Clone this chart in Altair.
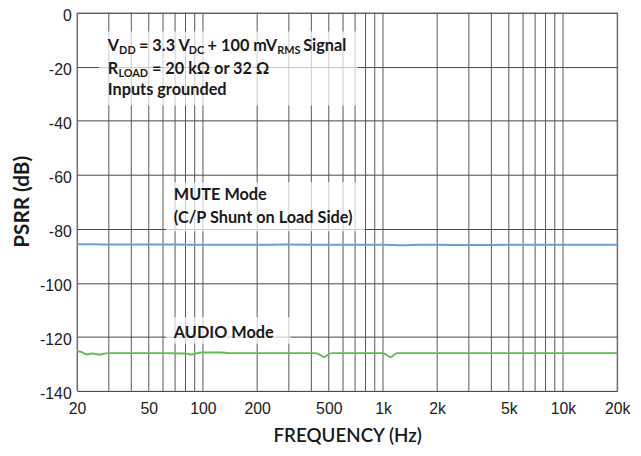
import altair as alt
import pandas as pd

# ---------------- data ----------------
mute_freq = [20, 25, 30, 40, 50, 70, 100, 150, 200, 300, 500, 700, 1000, 1300, 1600, 2000,
             3000, 5000, 7000, 10000, 15000, 20000]
mute_db = [-85.7, -85.7, -85.8, -85.8, -85.8, -85.8, -85.9, -85.9, -85.9, -85.8, -85.9, -85.9,
           -85.9, -86.1, -85.9, -85.9, -86.0, -85.9, -85.9, -85.9, -85.9, -85.9]

audio_freq = [20, 21, 22, 23, 24, 25, 26, 27, 28, 30, 40, 60, 80, 85, 90, 95, 100, 110, 125, 140,
              200, 300, 420, 450, 470, 490, 520, 700, 1000, 1050, 1100, 1150, 1200, 1500, 2000,
              5000, 10000, 20000]
audio_db = [-125.3, -125.5, -126.2, -126.5, -126.1, -126.2, -126.5, -126.5, -126.2, -126.0,
            -126.0, -126.0, -126.1, -126.5, -126.3, -125.9, -125.8, -125.8, -125.8, -126.0,
            -126.0, -126.0, -126.0, -126.7, -127.5, -126.8, -126.0, -126.0, -126.0, -126.7,
            -127.5, -126.7, -126.0, -126.0, -126.0, -126.0, -126.0, -126.0]

x_ticks = [20, 50, 100, 200, 500, 1000, 2000, 5000, 10000, 20000]
x_tick_labels = ["20", "50", "100", "200", "500", "1k", "2k", "5k", "10k", "20k"]
x_grid = [20, 30, 40, 50, 60, 70, 80, 90, 100, 200, 300, 400, 500, 600, 700, 800, 900,
          1000, 2000, 3000, 4000, 5000, 6000, 7000, 8000, 9000, 10000, 20000]
y_ticks = [0, -20, -40, -60, -80, -100, -120, -140]

# annotation text (segments: text, subscript?)
note_lines = [
    [("V", False), ("DD", True), (" = 3.3 V", False), ("DC", True), (" + 100 mV", False),
     ("RMS", True), (" Signal", False)],
    [("R", False), ("LOAD", True), (" = 20 k\u03a9 or 32 \u03a9", False)],
    [("Inputs grounded", False)],
]
note_anchor_f = 29.6
note_line_db = [-14.3, -22.6, -30.3]

mute_label = ["MUTE Mode", "(C/P Shunt on Load Side)"]
mute_label_db = [-69.3, -77.7]
audio_label = ["AUDIO Mode"]
audio_label_db = [-120.4]
mode_label_f = 68.9

# translucent backgrounds behind annotations (freq1, freq2, db1, db2)
box_f1 = [26.4, 62.3, 62.3]
box_f2 = [722, 788, 306]
box_d1 = [-6.9, -62.7, -112.7]
box_d2 = [-34.3, -80.9, -122.5]

# ---------------- styling helpers ----------------
FONT = "Lato"
MAIN_SIZE = 16.5
SUB_SIZE = 11
TEXT_COLOR = "#1a1a1a"

# approximate Lato Bold advance widths (em)
W = {" ": 0.193, "0": 0.58, "1": 0.58, "2": 0.58, "3": 0.58, ".": 0.23, "=": 0.58, "+": 0.58,
     "A": 0.708, "C": 0.686, "D": 0.765, "L": 0.523, "M": 0.9, "O": 0.80, "R": 0.652,
     "S": 0.539, "V": 0.70, "I": 0.292, "a": 0.505, "d": 0.58, "e": 0.53, "g": 0.52,
     "i": 0.26, "k": 0.54, "l": 0.26, "m": 0.87, "n": 0.58, "o": 0.58, "p": 0.58, "r": 0.39,
     "s": 0.44, "t": 0.38, "u": 0.58, "\u03a9": 0.75}


def text_width(s, size):
    return sum(W.get(c, 0.55) for c in s) * size


xscale = alt.Scale(type="log", domain=[20, 20000], nice=False)
yscale = alt.Scale(domain=[-140, 0], nice=False)

label_expr = " : ".join(
    f"datum.value == {v} ? '{t}'" for v, t in zip(x_ticks, x_tick_labels)
) + " : ''"

xaxis = alt.Axis(values=x_ticks, labelExpr=label_expr, grid=False, ticks=False, domain=False,
                 labelFont="Liberation Sans", labelFontSize=16, labelColor="#222222",
                 labelPadding=10, labelFlush=False, labelOverlap=False,
                 title="FREQUENCY (Hz)", titleFont=FONT, titleFontSize=19, titleFontWeight=600,
                 titleColor=TEXT_COLOR, titleY=51, titleBaseline="alphabetic")
yaxis = alt.Axis(values=y_ticks, grid=True, gridColor="#444444", gridWidth=1, ticks=False,
                 domain=False, labelExpr="'' + datum.value", labelFont="Liberation Sans",
                 labelFontSize=16, labelColor="#222222", labelPadding=6, labelOffset=3,
                 labelFlush=False, labelOverlap=False,
                 title="PSRR (dB)", titleFont=FONT,
                 titleFontSize=21, titleFontWeight="bold", titleColor=TEXT_COLOR,
                 titleAngle=270, titleX=-49, titleY=191, titleAlign="center",
                 titleBaseline="alphabetic")


def X(field):
    return alt.X(field, type="quantitative", scale=xscale, axis=xaxis)


def Y(field):
    return alt.Y(field, type="quantitative", scale=yscale, axis=yaxis)


layers = []

# vertical grid
grid_df = pd.DataFrame({"f": x_grid})
layers.append(alt.Chart(grid_df).mark_rule(color="#555555", strokeWidth=1).encode(x=X("f")))

# translucent boxes
box_df = pd.DataFrame({"f1": box_f1, "f2": box_f2, "d1": box_d1, "d2": box_d2})
layers.append(alt.Chart(box_df).mark_rect(fill="white", opacity=0.7).encode(
    x=X("f1"), x2="f2", y=Y("d1"), y2="d2"))

# data lines
mute_df = pd.DataFrame({"f": mute_freq, "db": mute_db})
audio_df = pd.DataFrame({"f": audio_freq, "db": audio_db})
layers.append(alt.Chart(mute_df).mark_line(color="#6c9ed8", strokeWidth=2,
                                           interpolate="monotone").encode(x=X("f"), y=Y("db")))
layers.append(alt.Chart(audio_df).mark_line(color="#62bf4f", strokeWidth=2,
                                            interpolate="monotone").encode(x=X("f"), y=Y("db")))


def text_layer(t, f, d, size, dx, dy):
    df = pd.DataFrame({"f": [f], "d": [d], "t": [t]})
    return alt.Chart(df).mark_text(align="left", baseline="alphabetic", font=FONT,
                                   fontWeight="bold", fontSize=size, color=TEXT_COLOR,
                                   dx=dx, dy=dy).encode(x=X("f"), y=Y("d"), text="t:N")


for segs, d in zip(note_lines, note_line_db):
    off = 0.0
    for s, sub in segs:
        size = SUB_SIZE if sub else MAIN_SIZE
        stripped = s.lstrip(" ")
        off += text_width(s[: len(s) - len(stripped)], size)
        layers.append(text_layer(stripped, note_anchor_f, d, size, round(off, 1),
                                 3 if sub else 0))
        off += text_width(stripped, size)

for s, d in zip(mute_label, mute_label_db):
    layers.append(text_layer(s, mode_label_f, d, MAIN_SIZE, 0, 0))
for s, d in zip(audio_label, audio_label_db):
    layers.append(text_layer(s, mode_label_f, d, MAIN_SIZE, 0, 0))

chart = alt.layer(*layers).properties(
    width=547, height=383,
    autosize=alt.AutoSizeParams(type="none"),
    padding={"left": 70, "top": 2, "right": 16, "bottom": 58},
    background="white",
).configure_view(stroke="#8c8c8c", strokeWidth=1)

chart.save("out.html", embed_options={"renderer": "svg", "actions": False})
